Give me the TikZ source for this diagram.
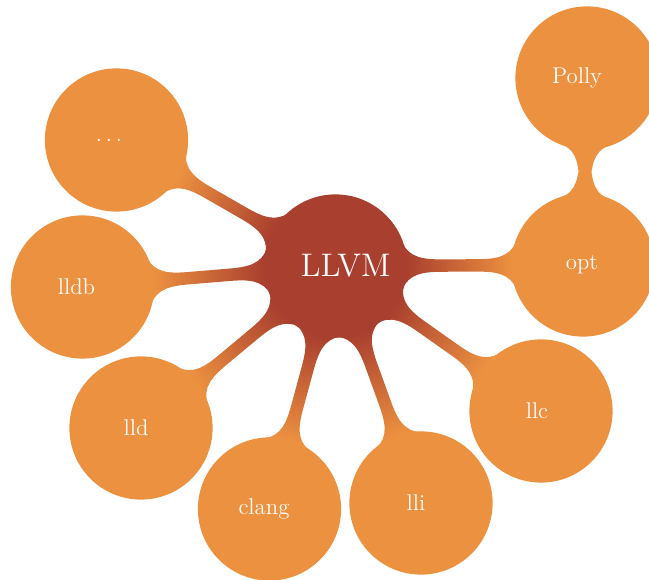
\documentclass[tikz,border=0pt]{standalone}
\usepackage{graphicx}
\usetikzlibrary{mindmap}
\definecolor{llvmred}{HTML}{A93F2E}
\definecolor{toolorange}{HTML}{EC9140}
\newcommand\toollabel[2]{\scalebox{1.9}{#2}\hspace*{#1}}
\begin{document}
\begin{tikzpicture}[x=1pt,y=1pt,mindmap,
  rootc/.style={concept, concept color=llvmred, minimum size=142pt, text width=,
    text=white},
  tool/.style={concept, concept color=toolorange, minimum size=142pt, text width=,
    text=white},
  rootlink/.style={circle connection bar switch color=from (llvmred) to (toolorange)},
  toollink/.style={circle connection bar switch color=from (toolorange) to (toolorange)}]
\useasboundingbox (0,0) rectangle (649,580);
\node[rootc] (llvm) at (335.5,314) {\hspace*{20pt}\scalebox{2.72}{LLVM}};
\node[tool] (opt) at (583,315) {\toollabel{2pt}{opt}};
\node[tool] (polly) at (587,502) {\toollabel{20pt}{Polly}};
\node[tool] (llc) at (541,169) {\toollabel{8pt}{llc}};
\node[tool] (lli) at (421,77) {\toollabel{10pt}{lli}};
\node[tool] (clang) at (269.5,71) {\toollabel{11pt}{clang}};
\node[tool] (lld) at (141,152) {\toollabel{10pt}{lld}};
\node[tool] (lldb) at (82.5,293) {\toollabel{12pt}{lldb}};
\node[tool] (dots) at (116.5,440) {\toollabel{15pt}{$\ldots$}};
\path (llvm) to[rootlink] (opt);
\path (llvm) to[rootlink] (llc);
\path (llvm) to[rootlink] (lli);
\path (llvm) to[rootlink] (clang);
\path (llvm) to[rootlink] (lld);
\path (llvm) to[rootlink] (lldb);
\path (llvm) to[rootlink] (dots);
\path (opt) to[toollink] (polly);
\end{tikzpicture}
\end{document}
